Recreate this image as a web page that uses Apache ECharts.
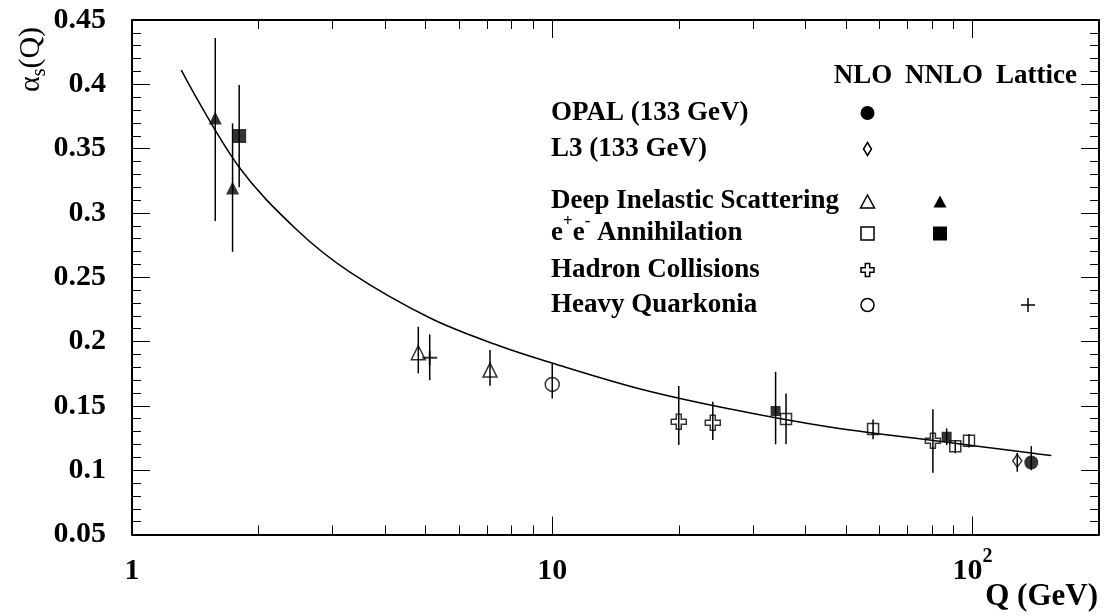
<!DOCTYPE html>
<html lang="en">
<head>
<meta charset="UTF-8">
<title>alpha_s(Q)</title>
<script src="https://cdn.jsdelivr.net/npm/echarts@6/dist/echarts.min.js"></script>
<style>
  html, body { margin: 0; padding: 0; background: #fff; }
  #main { width: 1104px; height: 616px; }
</style>
</head>
<body>
<div id="main"></div>
<script>
var FONT = '"Liberation Serif", "DejaVu Serif", serif';

// running coupling curve
var curveQ = [1.31, 1.79, 2.47, 3.30, 5.12, 7.39, 9.98, 16.2, 26.5, 45.7, 79.1, 136.7, 154];
var curveAlpha = [0.4111, 0.3365, 0.2867, 0.254, 0.2183, 0.1973, 0.1833, 0.1631, 0.1475, 0.1335, 0.1234, 0.1135, 0.1114];

// measurements: [Q, alpha_s, lower end, upper end]
var opalNLO = [[138, 0.106, 0.100, 0.1187]];
var l3NLO = [[127.8, 0.1073, 0.0988, 0.1135]];
var disNLO = [[4.80, 0.1913, 0.1753, 0.2115], [7.11, 0.1778, 0.1656, 0.1934]];
var disNNLO = [[1.578, 0.3738, 0.2937, 0.436], [1.735, 0.3194, 0.2698, 0.3697]];
var eeNLO = [[36.0, 0.1397, 0.1201, 0.1597], [58.0, 0.132, 0.124, 0.1395],
             [91.0, 0.1187, 0.1131, 0.1234], [98.1, 0.1229, 0.1177, 0.1281]];
var eeNNLO = [[1.799, 0.3598, 0.3199, 0.3995], [34.0, 0.146, 0.1201, 0.1765], [86.8, 0.126, 0.1195, 0.1325]];
var hadronNLO = [[20.0, 0.1376, 0.1195, 0.1654], [24.1, 0.1369, 0.1234, 0.1532], [80.5, 0.1229, 0.098, 0.1473]];
var quarkoniaNLO = [[10.0, 0.1667, 0.1558, 0.1825]];
var quarkoniaLattice = [[5.11, 0.1874, 0.170, 0.2056]];

var xLabelValues = [1, 10, 100];
var xMajorTicks = [10, 100];
var xMinorTicks = [2, 3, 4, 5, 6, 7, 8, 9, 20, 30, 40, 50, 60, 70, 80, 90];

var legendColumns = ['NLO', 'NNLO', 'Lattice'];
var legendRows = ['OPAL (133 GeV)', 'L3 (133 GeV)', 'Deep Inelastic Scattering',
                  '{t|e}{u|+}{t|e}{u|-}{t| Annihilation}', 'Hadron Collisions', 'Heavy Quarkonia'];

var CROSS = 'path://M5,0 L10,0 L10,5 L15,5 L15,10 L10,10 L10,15 L5,15 L5,10 L0,10 L0,5 L5,5 Z';
var PLUS = 'path://M0,7 L16,7 L16,9 L0,9 Z M7,0 L9,0 L9,16 L7,16 Z';

function errorBars(data) {
    return {
        type: 'custom',
        silent: true,
        z: 3,
        data: data.map(function (d) { return [d[0], d[2], d[3]]; }),
        encode: { x: 0, y: [1, 2] },
        renderItem: function (params, api) {
            var lo = api.coord([api.value(0), api.value(1)]);
            var hi = api.coord([api.value(0), api.value(2)]);
            return {
                type: 'line',
                shape: { x1: lo[0], y1: lo[1], x2: hi[0], y2: hi[1] },
                style: { stroke: '#000', lineWidth: 1.5 }
            };
        }
    };
}

function points(data, symbol, size, filled) {
    return {
        type: 'scatter',
        silent: true,
        z: 4,
        data: data.map(function (d) { return [d[0], d[1]]; }),
        symbol: symbol,
        symbolSize: size,
        itemStyle: filled ? { color: '#000' }
                          : { color: 'rgba(0,0,0,0)', borderColor: '#000', borderWidth: 1.5 }
    };
}

function xAxis(position, ticks, len, withLine) {
    return {
        type: 'log', logBase: 10, min: 1, max: 200, position: position,
        axisLine: { show: withLine, onZero: false, lineStyle: { color: '#000', width: 2 } },
        axisTick: { show: true, inside: true, length: len, customValues: ticks,
                    lineStyle: { color: '#000', width: 1 } },
        axisLabel: { show: false },
        splitLine: { show: false }
    };
}

function yAxis(position, labels) {
    return {
        type: 'value', min: 0.05, max: 0.45, interval: 0.05, position: position,
        axisLine: { show: true, onZero: false, lineStyle: { color: '#000', width: 2 } },
        axisTick: { show: true, inside: true, length: 18, lineStyle: { color: '#000', width: 1 } },
        minorTick: { show: true, splitNumber: 5, length: 9, lineStyle: { color: '#000', width: 1 } },
        splitLine: { show: false },
        axisLabel: {
            show: labels, margin: 26, color: '#000',
            fontFamily: FONT, fontWeight: 'bold', fontSize: 30,
            formatter: function (v) { return String(+v.toFixed(2)); }
        }
    };
}

var bottomAxis = xAxis('bottom', xMajorTicks, 18, true);
bottomAxis.axisLabel = {
    show: true, margin: 12, customValues: xLabelValues, color: '#000',
    formatter: function (v) {
        var r = Math.round(v);
        return r === 100 ? '{m|10}{s|2}' : '{m|' + r + '}';
    },
    rich: {
        m: { fontFamily: FONT, fontWeight: 'bold', fontSize: 30, lineHeight: 50, color: '#000' },
        s: { fontFamily: FONT, fontWeight: 'bold', fontSize: 20, lineHeight: 23, verticalAlign: 'top', color: '#000' }
    }
};

// legend drawn as a small table
var colX = [867.5, 940, 1028];
var rowY = [113, 149, 201.5, 233.5, 270, 305];
var headX = [863, 944, 1036.5];
var ink = { fill: '#000' };
var open = { fill: 'none', stroke: '#000', lineWidth: 1.5 };

function tri(cx, cy, w, h, style) {
    return { type: 'polygon', shape: { points: [[cx, cy - h / 2], [cx + w / 2, cy + h / 2], [cx - w / 2, cy + h / 2]] }, style: style };
}
function crossShape(cx, cy, s) {
    var a = s / 2, b = s / 6;
    return { type: 'polygon', style: open, shape: { points: [
        [cx - b, cy - a], [cx + b, cy - a], [cx + b, cy - b], [cx + a, cy - b], [cx + a, cy + b], [cx + b, cy + b],
        [cx + b, cy + a], [cx - b, cy + a], [cx - b, cy + b], [cx - a, cy + b], [cx - a, cy - b], [cx - b, cy - b]] } };
}

var graphics = [];
legendColumns.forEach(function (t, i) {
    graphics.push({ type: 'text', x: headX[i], y: 76, style: { text: t, align: 'center', verticalAlign: 'middle',
        font: 'bold 27px ' + FONT, fill: '#000' } });
});
legendRows.forEach(function (t, i) {
    graphics.push({ type: 'text', x: 551, y: rowY[i], style: {
        text: t, align: 'left', verticalAlign: 'middle', font: 'bold 27px ' + FONT, fill: '#000',
        rich: {
            t: { fontFamily: FONT, fontWeight: 'bold', fontSize: 27, lineHeight: 40, fill: '#000' },
            u: { fontFamily: FONT, fontWeight: 'bold', fontSize: 17, lineHeight: 20, verticalAlign: 'top', fill: '#000' }
        } } });
});
graphics.push(
    { type: 'circle', shape: { cx: colX[0], cy: rowY[0], r: 7 }, style: ink },
    { type: 'polygon', shape: { points: [[colX[0], rowY[1] - 6.5], [colX[0] + 4, rowY[1]], [colX[0], rowY[1] + 6.5], [colX[0] - 4, rowY[1]]] }, style: open },
    tri(colX[0], rowY[2], 14, 13, open),
    tri(colX[1], rowY[2], 13, 12, ink),
    { type: 'rect', shape: { x: colX[0] - 6.5, y: rowY[3] - 6.5, width: 13, height: 13 }, style: open },
    { type: 'rect', shape: { x: colX[1] - 7, y: rowY[3] - 7, width: 14, height: 14 }, style: ink },
    crossShape(colX[0], rowY[4], 13),
    { type: 'circle', shape: { cx: colX[0], cy: rowY[5], r: 6.5 }, style: open },
    { type: 'rect', shape: { x: colX[2] - 7, y: rowY[5] - 0.75, width: 14, height: 1.5 }, style: ink },
    { type: 'rect', shape: { x: colX[2] - 0.75, y: rowY[5] - 7, width: 1.5, height: 14 }, style: ink }
);
// axis titles
graphics.push(
    { type: 'text', x: 1098, y: 597, style: { text: 'Q (GeV)', align: 'right', verticalAlign: 'middle',
        font: 'bold 31px ' + FONT, fill: '#000' } },
    { type: 'text', x: 31.5, y: 59.5, rotation: Math.PI / 2, style: {
        text: '{a|α}{s|s}{a|(Q)}', align: 'center', verticalAlign: 'middle', fill: '#000',
        rich: {
            a: { fontFamily: FONT, fontSize: 30, lineHeight: 30, verticalAlign: 'top', fill: '#000' },
            s: { fontFamily: FONT, fontSize: 20, lineHeight: 20, padding: [17, 0, 0, 0], fill: '#000' }
        } } }
);

var chart = echarts.init(document.getElementById('main'));
chart.setOption({
    animation: false,
    backgroundColor: '#fff',
    grid: { left: 132, top: 20, right: 5, bottom: 81.5 },
    xAxis: [bottomAxis, xAxis('bottom', xMinorTicks, 9, false), xAxis('top', xMajorTicks, 18, true), xAxis('top', xMinorTicks, 9, false)],
    yAxis: [yAxis('left', true), yAxis('right', false)],
    graphic: graphics,
    series: [
        {
            type: 'line', silent: true, z: 2,
            data: curveQ.map(function (q, i) { return [q, curveAlpha[i]]; }),
            symbol: 'none', smooth: 0.35,
            lineStyle: { color: '#000', width: 1.5 }
        },
        errorBars(disNNLO), errorBars(eeNNLO), errorBars(disNLO), errorBars(eeNLO),
        errorBars(hadronNLO), errorBars(quarkoniaNLO), errorBars(quarkoniaLattice),
        errorBars(opalNLO), errorBars(l3NLO),
        points(disNNLO, 'triangle', 13, true),
        points(eeNNLO, 'rect', function (v) { return v[0] < 5 ? 14 : 10; }, true),
        points(disNLO, 'triangle', 14, false),
        points(eeNLO, 'rect', 11, false),
        points(hadronNLO, CROSS, 15, false),
        points(quarkoniaNLO, 'circle', 14, false),
        points(quarkoniaLattice, PLUS, 15, true),
        points(opalNLO, 'circle', 14, true),
        points(l3NLO, 'diamond', [9, 13], false)
    ]
});
</script>
</body>
</html>
